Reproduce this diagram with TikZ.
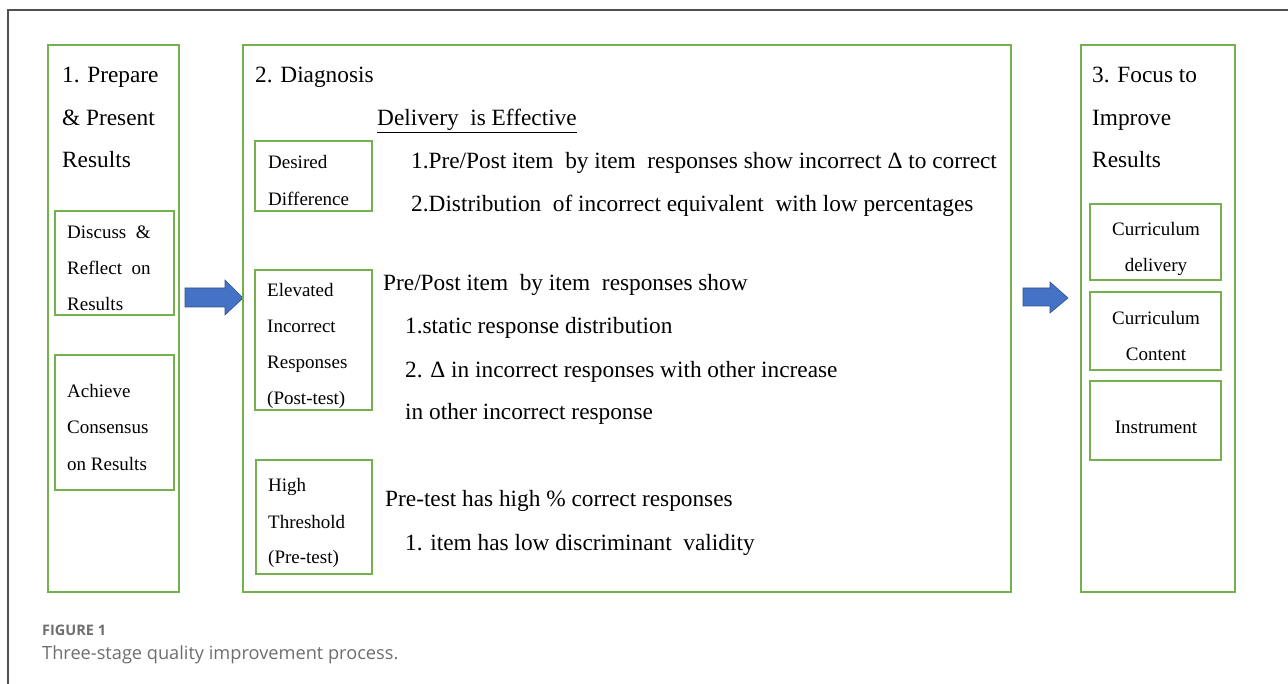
\documentclass[tikz,border=0pt]{standalone}
\usepackage{fontspec}
\setmainfont{Liberation Serif}
\newfontfamily\capfont{Open Sans}
\definecolor{boxgreen}{RGB}{116,176,78}
\definecolor{arrowblue}{RGB}{68,114,196}
\definecolor{arrowedge}{RGB}{47,82,143}
\definecolor{framegray}{RGB}{80,80,80}
\definecolor{capgray}{RGB}{110,110,112}
\begin{document}
\begin{tikzpicture}[x=1pt,y=-1pt,
  box/.style={draw=boxgreen,line width=1.4pt,anchor=north west,inner sep=0pt,outer sep=0pt},
  big/.style={anchor=base west,inner sep=0pt,font=\fontsize{23.3}{28}\selectfont},
  small/.style={anchor=base west,inner sep=0pt,font=\fontsize{19}{23}\selectfont},
  smallc/.style={anchor=base,inner sep=0pt,font=\fontsize{19}{23}\selectfont},
  bluearrow/.style={fill=arrowblue,draw=arrowedge,line width=0.6pt}]
\useasboundingbox (0,0) rectangle (1288,684);
% outer frame (top and left edges)
\coordinate (fr1) at (8,684);
\coordinate (fr2) at (8,10);
\coordinate (fr3) at (1288,10);
\draw[framegray,line width=1.4pt] (fr1) -- (fr2) -- (fr3);

% ---------- Stage 1 ----------
\node[box,minimum width=131pt,minimum height=547pt] (b1) at (48,45) {};
\node[big] (t1a) at (62,83) {1. Prepare};
\node[big] (t1b) at (62,126) {\& Present};
\node[big] (t1c) at (62,168) {Results};
\node[box,minimum width=119pt,minimum height=104pt] (s11) at (55,211) {};
\node[small] (s11a) at (67,239) {Discuss\ \ \&};
\node[small] (s11b) at (67,275) {Reflect\ \ on};
\node[small] (s11c) at (67,311) {Results};
\node[box,minimum width=119pt,minimum height=135pt] (s12) at (55,355) {};
\node[small] (s12a) at (67,398) {Achieve};
\node[small] (s12b) at (67,434) {Consensus};
\node[small] (s12c) at (67,471) {on Results};

% arrow 1
\draw[bluearrow] (185,288) -- (225,288) -- (225,280) -- (243,298) -- (225,315) -- (225,307) -- (185,307) -- cycle;

% ---------- Stage 2 ----------
\node[box,minimum width=768pt,minimum height=547pt] (b2) at (243,45) {};
\node[big] (t2) at (255,83) {2. Diagnosis};
\node[big] (eff) at (377,126) {\underline{Delivery\ \ is Effective}};

\node[box,minimum width=117pt,minimum height=70pt] (s21) at (255,141) {};
\node[small] (s21a) at (268,169) {Desired};
\node[small] (s21b) at (268,206) {Difference};
\node[big] (d1) at (411,169) {1.Pre/Post item\ \ by item\ \ responses show incorrect Δ to correct};
\node[big] (d2) at (411,212) {2.Distribution\ \ of incorrect equivalent\ \ with low percentages};

\node[box,minimum width=117pt,minimum height=140pt] (s22) at (255,270) {};
\node[small] (s22a) at (267,297) {Elevated};
\node[small] (s22b) at (267,333) {Incorrect};
\node[small] (s22c) at (267,369) {Responses};
\node[small] (s22d) at (267,405) {(Post-test)};
\node[big] (e0) at (383,291) {Pre/Post item\ \ by item\ \ responses show};
\node[big] (e1) at (405,334) {1.static response distribution};
\node[big] (e2) at (405,378) {2. Δ in incorrect responses with other increase};
\node[big] (e3) at (405,420) {in other incorrect response};

\node[box,minimum width=116pt,minimum height=114pt] (s23) at (256,460) {};
\node[small] (s23a) at (268,491) {High};
\node[small] (s23b) at (268,528) {Threshold};
\node[small] (s23c) at (268,563) {(Pre-test)};
\node[big] (h0) at (385,506) {Pre-test has high \% correct responses};
\node[big] (h1) at (405,550) {1. item has low discriminant\ \ validity};

% arrow 2
\draw[bluearrow] (1023,288) -- (1050,288) -- (1050,282) -- (1068,298) -- (1050,313) -- (1050,306) -- (1023,306) -- cycle;

% ---------- Stage 3 ----------
\node[box,minimum width=154pt,minimum height=547pt] (b3) at (1081,45) {};
\node[big] (t3a) at (1092,83) {3. Focus to};
\node[big] (t3b) at (1092,126) {Improve};
\node[big] (t3c) at (1092,168) {Results};
\node[box,minimum width=131pt,minimum height=76pt] (s31) at (1090,204) {};
\node[smallc] (s31a) at (1156,236) {Curriculum};
\node[smallc] (s31b) at (1156,272) {delivery};
\node[box,minimum width=131pt,minimum height=78pt] (s32) at (1090,292) {};
\node[smallc] (s32a) at (1156,325) {Curriculum};
\node[smallc] (s32b) at (1156,361) {Content};
\node[box,minimum width=131pt,minimum height=79pt] (s33) at (1090,381) {};
\node[smallc] (s33a) at (1156,433) {Instrument};

% ---------- Caption ----------
\node[anchor=base west,inner sep=0pt,text=capgray,font=\capfont\bfseries\fontsize{14.5}{17}\selectfont] (cap1) at (42,635) {FIGURE 1};
\node[anchor=base west,inner sep=0pt,text=capgray,font=\capfont\fontsize{18.2}{22}\selectfont] (cap2) at (42,659) {Three-stage quality improvement process.};
\end{tikzpicture}
\end{document}
